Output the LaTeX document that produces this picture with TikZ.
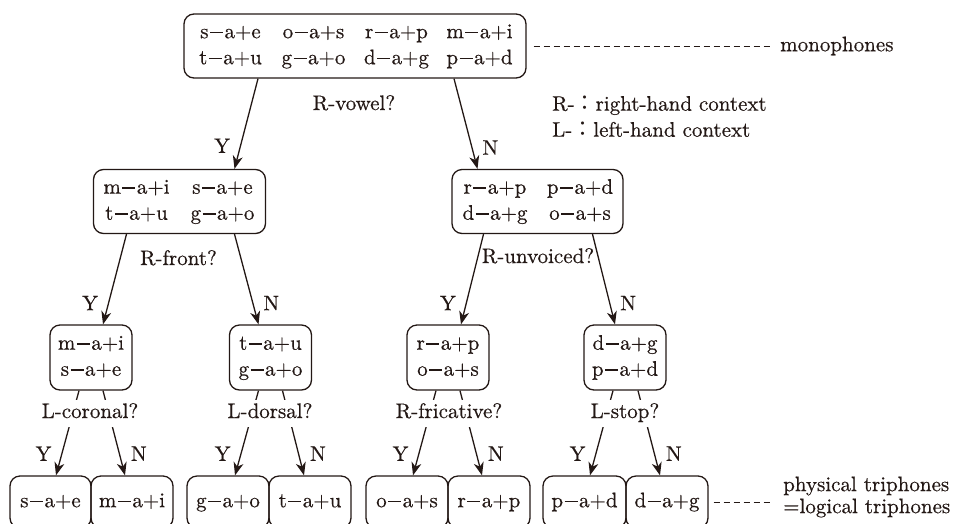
\documentclass[tikz,border=0pt]{standalone}
\usepackage{fontspec}
\setmainfont{lmroman10-regular.otf}[FakeBold=0.5]
\newfontfamily\cjk{Noto Sans CJK JP}
\usetikzlibrary{arrows.meta}
\definecolor{ink}{RGB}{35,24,21}
% heavy minus sign between the contexts
\newcommand\phminus{\hspace{0.07em}\rule[0.235em]{0.62em}{0.075em}\hspace{0.07em}}
% one triphone label: left context - a + right context
\newcommand\phn[2]{#1\phminus a+#2}
% fixed-width cell used to lay out the phone lists in columns
\newcommand\phcell[2][83pt]{\makebox[#1]{#2}}
\begin{document}
\begin{tikzpicture}[x=1pt, y=-1pt,
  font=\fontsize{21}{26}\selectfont, text=ink,
  box/.style={draw=ink, line width=1.3pt, rounded corners=10pt, inner sep=0pt, align=center},
  conn/.style={draw=ink, line width=1.3pt},
  arr/.style={conn, -{Stealth[length=13pt,width=10pt,inset=4pt]}},
  yn/.style={inner sep=0pt, text height=15pt, text depth=0pt},
  quest/.style={inner sep=0pt, text height=15pt, text depth=5pt},
  questw/.style={fill=white, inner xsep=3pt, inner ysep=0pt, text height=15pt, text depth=5pt, minimum height=27pt},
  note/.style={draw=ink, line width=0.8pt, dash pattern=on 6pt off 4pt}]
\clip (0,0) rectangle (955,523);

% root: all monophone contexts
\node[box, minimum width=342pt, minimum height=64pt] (top) at (355,46)
  {\phcell{\phn se}\phcell{\phn os}\phcell{\phn rp}\phcell{\phn mi}\strut\\
   \phcell{\phn tu}\phcell{\phn go}\phcell{\phn dg}\phcell{\phn pd}\strut};

% first split
\node[box, minimum width=171pt, minimum height=64pt] (ml) at (179.5,201.5)
  {\phcell[86pt]{\phn mi}\phcell[86pt]{\phn se}\strut\\
   \phcell[86pt]{\phn tu}\phcell[86pt]{\phn go}\strut};
\node[box, minimum width=171pt, minimum height=64pt] (mr) at (537.5,201.5)
  {\phcell[85pt]{\phn rp}\phcell[85pt]{\phn pd}\strut\\
   \phcell[85pt]{\phn dg}\phcell[85pt]{\phn os}\strut};

% second split
\node[box, minimum width=82pt, minimum height=65pt] (l1) at (91,357.5)
  {\phn mi\strut\\ \phn se\strut};
\node[box, minimum width=82pt, minimum height=65pt] (l2) at (270.5,357.5)
  {\phn tu\strut\\ \phn go\strut};
\node[box, minimum width=82pt, minimum height=65pt] (l3) at (448,357.5)
  {\phn rp\strut\\ \phn os\strut};
\node[box, minimum width=82pt, minimum height=65pt] (l4) at (625,357.5)
  {\phn dg\strut\\ \phn pd\strut};

% leaves
\node[box, minimum width=81pt, minimum height=52pt] (b1) at (50.5,502) {\phn se\strut};
\node[box, minimum width=82pt, minimum height=52pt] (b2) at (132,502) {\phn mi\strut};
\node[box, minimum width=82pt, minimum height=52pt] (b3) at (228,502) {\phn go\strut};
\node[box, minimum width=82pt, minimum height=52pt] (b4) at (310,502) {\phn tu\strut};
\node[box, minimum width=82pt, minimum height=52pt] (b5) at (407,502) {\phn os\strut};
\node[box, minimum width=82pt, minimum height=52pt] (b6) at (489,502) {\phn rp\strut};
\node[box, minimum width=83pt, minimum height=52pt] (b7) at (584.5,502) {\phn pd\strut};
\node[box, minimum width=82pt, minimum height=52pt] (b8) at (667,502) {\phn dg\strut};

% questions on the upper splits
\node[quest] (q0) at (354,105) {R-vowel?};
\node[quest] (q1) at (178.5,260) {R-front?};
\node[quest] (q2) at (538,258) {R-unvoiced?};

% connectors, level 1
\draw[arr] ([xshift=-97pt]top.south) -- ([xshift=55pt]ml.north)
  node[yn, pos=0.74, left=10pt] {Y};
\draw[arr] ([xshift=99pt]top.south) -- ([xshift=-60pt]mr.north)
  node[yn, pos=0.76, right=10pt] {N};

% connectors, level 2
\draw[arr] ([xshift=-53pt]ml.south) -- ([xshift=12pt]l1.north)
  node[yn, pos=0.76, left=10pt] {Y};
\draw[arr] ([xshift=55pt]ml.south) -- ([xshift=-12pt]l2.north)
  node[yn, pos=0.76, right=10pt] {N};
\draw[arr] ([xshift=-54pt]mr.south) -- ([xshift=13pt]l3.north)
  node[yn, pos=0.76, left=10pt] {Y};
\draw[arr] ([xshift=55pt]mr.south) -- ([xshift=-10pt]l4.north)
  node[yn, pos=0.76, right=10pt] {N};

% connectors, level 3
\draw[arr] ([xshift=-12pt]l1.south) -- ([xshift=5.5pt]b1.north)
  node[yn, pos=0.74, left=10pt] {Y};
\draw[arr] ([xshift=12pt]l1.south) -- ([xshift=-7pt]b2.north)
  node[yn, pos=0.74, right=11pt] {N};
\draw[arr] ([xshift=-12pt]l2.south) -- ([xshift=7pt]b3.north)
  node[yn, pos=0.74, left=10pt] {Y};
\draw[arr] ([xshift=12pt]l2.south) -- ([xshift=-6pt]b4.north)
  node[yn, pos=0.74, right=11pt] {N};
\draw[arr] ([xshift=-12pt]l3.south) -- ([xshift=6pt]b5.north)
  node[yn, pos=0.74, left=10pt] {Y};
\draw[arr] ([xshift=12pt]l3.south) -- ([xshift=-7pt]b6.north)
  node[yn, pos=0.74, right=11pt] {N};
\draw[arr] ([xshift=-12pt]l4.south) -- ([xshift=5.5pt]b7.north)
  node[yn, pos=0.74, left=10pt] {Y};
\draw[arr] ([xshift=13pt]l4.south) -- ([xshift=-7pt]b8.north)
  node[yn, pos=0.74, right=11pt] {N};

% questions on the lower splits, masking the connectors
\node[questw] (q3) at (90,413) {L-coronal?};
\node[questw] (q4) at (270,413) {L-dorsal?};
\node[questw] (q5) at (449,413) {R-fricative?};
\node[questw] (q6) at (625,413) {L-stop?};

% legend
\node[anchor=west, align=left, inner sep=0pt] (legend) at (552,116.5)
  {R-{\cjk ：}right-hand context\\ L-{\cjk ：}left-hand context};

% annotations
\node[anchor=west, inner xsep=0pt] (mono) at (780,46) {monophones};
\draw[note, shorten <=7pt, shorten >=7pt] (top.east) -- (mono.west);
\node[anchor=west, align=left, inner xsep=0pt] (phys) at (783,497)
  {physical triphones\\[-4pt]=logical triphones};
\draw[note, shorten <=5pt, shorten >=10pt] (b8.east) -- (b8.east -| phys.west);
\end{tikzpicture}
\end{document}
